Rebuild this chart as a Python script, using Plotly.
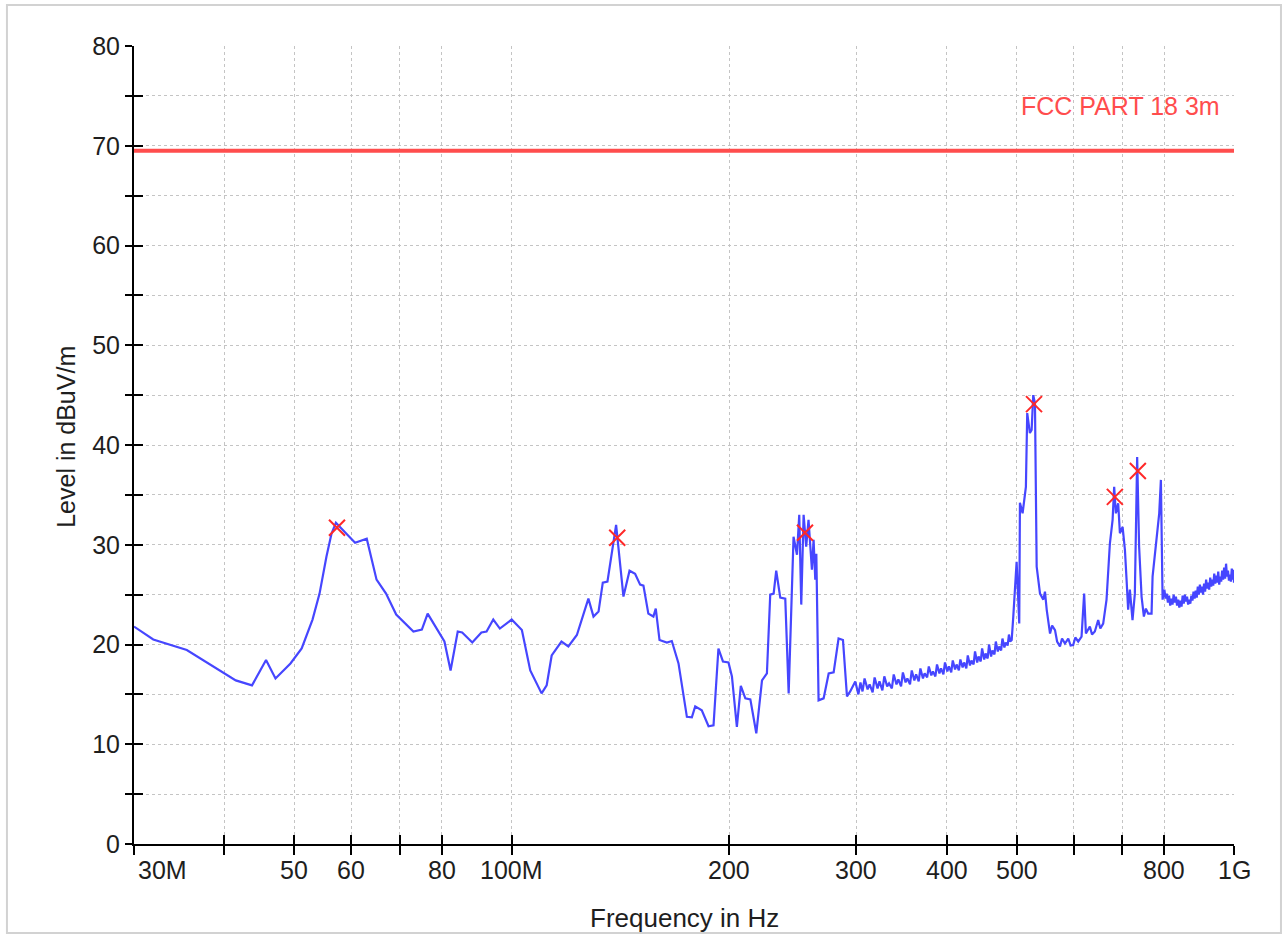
import math
import plotly.graph_objects as go

# Measured emission level versus frequency (MHz, dBuV/m)
freq_mhz = [
    30, 31.9, 35.5, 37.4, 41.5, 43.7, 45.7, 47.1, 49.4, 51.2, 53.0, 54.2, 55.4, 56.3,
    57.1, 57.8, 60.7, 63.0, 65.0, 67.0, 69.2, 73.1, 75.1, 76.5, 78.5, 80.7, 82.3, 84.2,
    85.4, 88.2, 90.8, 92.3, 94.3, 96.3, 100, 103.3, 106.1, 110, 111.8, 113.6, 117.2,
    119.8, 123.1, 127.7, 129.8, 131.9, 133.7, 135.7, 139.5, 142.8, 145.6, 148.2, 150.6,
    152.2, 154.6, 157.1, 158.3, 160.2, 164.0, 166.6, 170.2, 174.8, 177.6, 179.5, 183.3,
    187.3, 190.3, 193.3, 196.1, 199.6, 201.8, 205.0, 207.6, 210.6, 214, 218.1, 222.1,
    225.6, 228.0, 230.5, 232.4, 235.4, 239.2, 241.8, 245.6, 248.3, 250.1, 251.7, 253.6,
    255.7, 257.6, 260.4, 261.8, 263.2, 264.1, 266.0, 270.3, 274.7, 279.1, 283.5, 287.5,
    291.2, 294.2, 299,
    302, 304, 306, 308, 311, 313, 316, 318, 321, 323, 326, 328, 331, 333, 336, 338,
    341, 343, 346, 348, 351, 353, 356, 358, 361, 363, 366, 368, 371, 373, 376, 378,
    381, 383, 386, 388, 391, 393, 396, 398, 401, 403, 406, 408, 411, 413, 416, 418,
    421, 423, 426, 428, 431, 433, 436, 438, 441, 443, 446, 448, 451, 453, 456, 458,
    461, 463, 466, 468, 471, 473, 476, 478, 481, 483, 486, 488, 490,
    492.3, 494.8, 500.1, 504.3, 505.4, 509.7, 512.3, 515.1, 517.3, 521.7, 524.6, 527.3,
    530.2, 533.1, 538.8, 544.5, 547.4, 550.4, 556.3, 560, 565.2, 569, 574.2, 578, 583.4,
    589.6, 594, 598.9, 603, 608.6, 615.1, 620.2, 623.7, 631.6, 636, 641.7, 648.6, 653,
    659, 666.1, 673.2, 679.1, 682.5, 686.2, 691.3, 695.1, 701.1, 706.3, 710, 713.6,
    717.5, 723.6, 729, 734.4, 739, 744.8, 750.3, 755, 760.6, 768.9, 771.4, 777.1, 782.9,
    787.9, 792.1, 796.4,
    801, 804, 807, 810, 813, 816, 819, 822, 825, 828, 831, 834, 837, 840, 843, 846,
    849, 852, 855, 858, 861, 864, 867, 870, 873, 876, 879, 882, 885, 888, 891, 894,
    897, 900, 903, 906, 909, 912, 915, 918, 921, 924, 927, 930, 933, 936, 939, 942,
    945, 948, 951, 954, 957, 960, 963, 966, 969, 972, 975, 978, 981, 984, 987, 990,
    993, 996, 998, 1000,
]
level_db = [
    21.8, 20.5, 19.45, 18.45, 16.4, 15.9, 18.45, 16.6, 18.1, 19.6, 22.5, 25.1, 28.8, 31.1,
    32.2, 31.8, 30.2, 30.6, 26.5, 25.1, 23.0, 21.3, 21.5, 23.1, 21.8, 20.3, 17.4, 21.3,
    21.2, 20.2, 21.2, 21.3, 22.5, 21.6, 22.5, 21.45, 17.4, 15.1, 15.9, 18.9, 20.3,
    19.8, 20.95, 24.6, 22.8, 23.3, 26.2, 26.3, 32.0, 24.8, 27.4, 27.1, 26.0,
    25.9, 23.1, 22.8, 23.6, 20.45, 20.2, 20.35, 18.1, 12.75, 12.7, 13.8, 13.4,
    11.8, 11.9, 19.6, 18.3, 18.2, 16.8, 11.75, 15.85, 14.6, 14.5, 11.1, 16.4,
    17.1, 25.0, 25.1, 27.4, 24.7, 24.6, 15.1, 30.8, 29.0, 33.0, 24.0, 33.0,
    29.8, 32.5, 27.5, 30.5, 26.5, 29.1, 14.4, 14.6, 17.1, 17.2, 20.6, 20.45,
    14.8, 15.3, 16.3,
    15.0, 16.2, 15.3, 16.6, 15.5, 16.0, 15.2, 16.7, 15.6, 16.3, 15.4, 16.8, 15.8, 16.1, 15.6, 17.0,
    16.0, 16.5, 15.8, 17.2, 16.2, 16.6, 16.0, 17.4, 16.4, 17.0, 16.3, 17.6, 16.6, 17.1, 16.7, 17.8,
    16.9, 17.3, 16.8, 18.0, 17.1, 17.6, 17.0, 18.2, 17.3, 17.8, 17.2, 18.4, 17.5, 18.0, 17.4, 18.5,
    17.7, 18.2, 17.6, 18.9, 17.9, 18.4, 18.0, 19.3, 18.2, 18.8, 18.3, 19.6, 18.5, 19.1, 18.6, 20.0,
    18.8, 19.4, 19.0, 20.3, 19.3, 19.8, 19.4, 20.6, 19.7, 20.2, 19.9, 21.0, 20.3,
    20.45, 22.8, 28.3, 22.1, 34.2, 33.15, 34.8, 35.8, 43.2, 41.2, 41.5, 45.0,
    44.2, 27.8, 25.1, 24.5, 25.3, 23.5, 21.1, 21.9, 21.45, 20.3, 19.8, 20.6, 20.1,
    20.6, 19.9, 19.95, 20.7, 20.3, 20.8, 25.1, 21.1, 21.8, 21.0, 21.3, 22.45, 21.6,
    22.1, 24.5, 30.1, 32.5, 35.8, 33.15, 34.15, 31.15, 31.8, 29.5, 26.5, 23.5,
    25.5, 22.45, 25.1, 38.8, 29.8, 24.8, 22.8, 23.6, 23.1, 23.1, 26.8, 29.15, 31.15,
    33.15, 36.5, 24.5,
    25.5, 24.6, 25.1, 24.2, 24.9, 23.9, 24.6, 24.0, 25.0, 24.2, 24.8, 23.9, 24.5, 23.7, 24.4, 23.8,
    24.9, 24.1, 25.0, 24.3, 24.8, 24.0, 24.5, 24.1, 24.9, 24.4, 25.3, 24.6, 25.4, 24.7, 25.8, 25.0,
    26.0, 25.2, 25.8, 25.0, 26.1, 25.3, 26.5, 25.6, 26.2, 25.5, 26.7, 25.8, 26.5, 25.9, 27.1, 26.1,
    26.9, 26.2, 27.3, 26.0, 26.8, 26.3, 27.4, 26.5, 27.7, 26.6, 28.1, 26.8, 27.4, 26.4, 27.0, 26.3,
    27.6, 26.5, 27.5, 26.2,
]

# Peak detector markers
peak_freq_mhz = [57.3, 140.0, 254.7, 528.6, 684.0, 736.0]
peak_level_db = [31.7, 30.7, 31.2, 44.1, 34.8, 37.4]

# FCC Part 18 limit at 3 m
limit_label = "FCC PART 18 3m"
limit_level_db = 69.5

# Axis ticks
x_tick_mhz = [30, 40, 50, 60, 70, 80, 100, 200, 300, 400, 500, 600, 700, 800, 1000]
x_tick_text = ["30M", "", "50", "60", "", "80", "100M", "200", "300", "400", "500", "", "", "800", "1G"]
y_tick_vals = list(range(0, 81, 5))
y_tick_text = [str(v) if v % 10 == 0 else "" for v in y_tick_vals]

FONT = "Liberation Sans, Arial, sans-serif"
TXT = "#1e1e1e"
GRID = "#c4c4c4"
RED = "#ff4d4d"

hz = lambda seq: [v * 1e6 for v in seq]
x_range = [math.log10(30e6), math.log10(1e9)]

fig = go.Figure()

fig.add_trace(go.Scatter(
    x=hz([30, 1000]), y=[limit_level_db, limit_level_db], mode="lines",
    line=dict(color=RED, width=4), hoverinfo="skip",
))
fig.add_trace(go.Scatter(
    x=hz(freq_mhz), y=level_db, mode="lines",
    line=dict(color="#4646ff", width=2.2),
))
fig.add_trace(go.Scatter(
    x=hz(peak_freq_mhz), y=peak_level_db, mode="markers",
    marker=dict(symbol="x-thin-open", size=16, color="#ff2828",
                line=dict(color="#ff2828", width=2)),
))
# invisible trace so the inner tick axes get drawn
fig.add_trace(go.Scatter(
    x=[30e6], y=[0], xaxis="x2", yaxis="y2", mode="markers",
    marker=dict(opacity=0), hoverinfo="skip",
))

fig.update_layout(
    width=1285, height=937,
    margin=dict(l=134, r=51, t=46, b=93),
    paper_bgcolor="white", plot_bgcolor="white",
    showlegend=False,
    font=dict(family=FONT, color=TXT),
    xaxis=dict(
        type="log", range=x_range, tickmode="array", tickvals=hz(x_tick_mhz),
        showticklabels=False, ticks="outside", ticklen=9, tickwidth=2, tickcolor="black",
        showline=True, linecolor="black", linewidth=2,
        showgrid=True, gridcolor=GRID, griddash="dot", gridwidth=1, zeroline=False,
    ),
    yaxis=dict(
        range=[0, 80], tickmode="array", tickvals=y_tick_vals, ticktext=y_tick_text,
        ticks="outside", ticklen=7, tickwidth=2, tickcolor="black",
        tickfont=dict(size=25, color=TXT, family=FONT),
        showline=True, linecolor="black", linewidth=2,
        showgrid=True, gridcolor=GRID, griddash="dot", gridwidth=1, zeroline=False,
    ),
    xaxis2=dict(
        type="log", range=x_range, overlaying="x", anchor="y", side="bottom",
        tickmode="array", tickvals=hz(x_tick_mhz), ticks="inside", ticklen=9,
        tickwidth=2, tickcolor="black", showticklabels=False, showgrid=False,
        showline=False, zeroline=False,
    ),
    yaxis2=dict(
        range=[0, 80], overlaying="y", anchor="x", side="left",
        tickmode="array", tickvals=y_tick_vals, ticks="inside", ticklen=9,
        tickwidth=2, tickcolor="black", showticklabels=False, showgrid=False,
        showline=False, zeroline=False,
    ),
)

annotations = []
for f, t in zip(x_tick_mhz, x_tick_text):
    if not t:
        continue
    annotations.append(dict(
        x=math.log10(f * 1e6), y=0, xref="x", yref="paper",
        text=t, showarrow=False, yanchor="top", yshift=-10,
        xanchor="left" if f == 30 else "center", xshift=2 if f == 30 else 0,
        font=dict(size=25, color=TXT, family=FONT),
    ))
annotations.append(dict(
    x=0.5, y=-0.093, xref="paper", yref="paper", text="Frequency in Hz",
    showarrow=False, yanchor="middle", xanchor="center",
    font=dict(size=26, color=TXT, family=FONT),
))
annotations.append(dict(
    x=-0.062, y=0.51, xref="paper", yref="paper", text="Level in dBuV/m",
    showarrow=False, textangle=-90, xanchor="center", yanchor="middle",
    font=dict(size=25, color=TXT, family=FONT),
))
annotations.append(dict(
    x=math.log10(1e9), y=74.0, xref="x", yref="y", text=limit_label,
    showarrow=False, xanchor="right", yanchor="middle", xshift=-12,
    font=dict(size=25, color=RED, family=FONT),
))
fig.update_layout(annotations=annotations)

# light frame around the whole chart
fig.add_shape(
    type="rect", xref="paper", yref="paper",
    x0=-0.1155, x1=1.0427, y0=-0.1115, y1=1.0514,
    line=dict(color="#d2d2d2", width=2), fillcolor="rgba(0,0,0,0)", layer="below",
)

fig.write_html("out.html")
